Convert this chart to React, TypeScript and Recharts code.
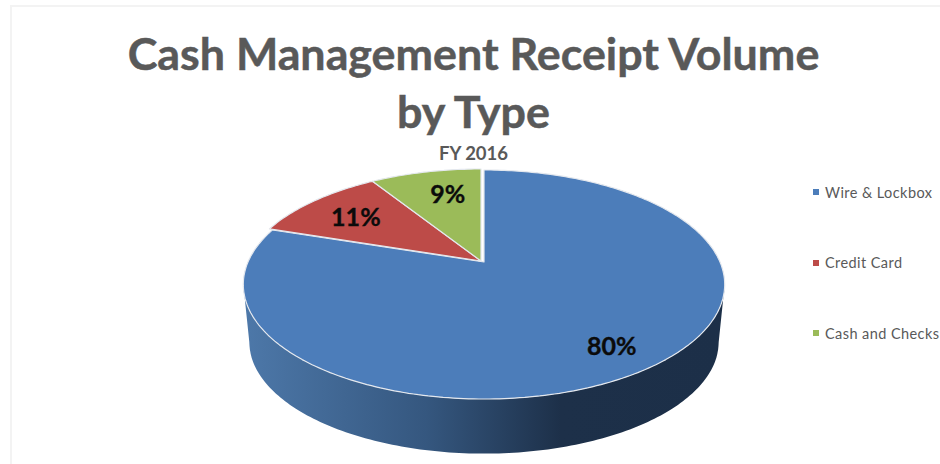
import React from 'react';
import { PieChart, Pie, Cell, Legend } from 'recharts';

const titleLines = ['Cash Management Receipt Volume', 'by Type'];
const subtitle = 'FY 2016';
const categories = ['Wire & Lockbox', 'Credit Card', 'Cash and Checks'];
const shares = [80, 11, 9];
const COLORS = ['#4c7dba', '#bd4b48', '#9bbb59'];

const data = categories.map((name, i) => ({ name, value: shares[i] }));

// the pie is tilted, so a flat circle is projected with some perspective
const TILT = 0.1965;
const SQUASH = 0.4665;
const DEPTH = 58;
const BOTTOM_TAPER = 0.975;
const RAD = Math.PI / 180;

function project(cx: number, cy: number, r: number, deg: number) {
  const c = Math.cos(deg * RAD);
  const s = Math.sin(deg * RAD);
  const d = 1 + TILT * (r / 236) * s;
  return { x: cx + (r * c) / d, y: cy - (r * SQUASH * s) / d };
}

function arcPoints(cx: number, cy: number, r: number, from: number, to: number) {
  const pts = [];
  const n = Math.max(2, Math.ceil(Math.abs(to - from)));
  for (let i = 0; i <= n; i++) pts.push(project(cx, cy, r, from + ((to - from) * i) / n));
  return pts;
}

const toPath = (pts: { x: number; y: number }[]) =>
  pts.map((p, i) => `${i ? 'L' : 'M'}${p.x.toFixed(1)},${p.y.toFixed(1)}`).join(' ');

function PieSlice(props: any) {
  const { cx, cy, outerRadius, startAngle, endAngle, fill, index } = props;
  // the big slice sits a little apart from the other two
  const ox = index === 0 ? cx + 3 : cx;
  const oy = index === 0 ? cy + 1 : cy;
  const top = arcPoints(ox, oy, outerRadius, startAngle, endAngle);

  const wallFrom = Math.min(startAngle, -11.3);
  const wallTo = Math.max(endAngle, -168.7);
  let wall = null;
  if (wallFrom > wallTo) {
    const front = arcPoints(ox, oy, outerRadius, wallFrom, wallTo);
    const bottom = front
      .map((p) => ({
        x: ox + (p.x - ox) * BOTTOM_TAPER,
        y: oy + (p.y - oy) * BOTTOM_TAPER + DEPTH,
      }))
      .reverse();
    wall = <path d={toPath([...front, ...bottom]) + ' Z'} fill="url(#wallShade)" />;
  }

  return (
    <g>
      <defs>
        <linearGradient id="wallShade" gradientUnits="userSpaceOnUse" x1={ox - 240} y1="0" x2={ox + 240} y2="0">
          <stop offset="0" stopColor="#4d78a9" />
          <stop offset="0.38" stopColor="#35577f" />
          <stop offset="0.66" stopColor="#1d3049" />
          <stop offset="1" stopColor="#1c2f48" />
        </linearGradient>
      </defs>
      {wall}
      <path
        d={`M${ox},${oy} ` + toPath(top).replace('M', 'L') + ' Z'}
        fill={fill}
        stroke="#e4e8ee"
        strokeWidth={1.2}
        strokeLinejoin="round"
      />
    </g>
  );
}

function SliceLabel(props: any) {
  const { cx, cy, outerRadius, midAngle, percent, value } = props;
  const reach = percent > 0.5 ? 0.82 : 0.73;
  const p = project(cx, cy, outerRadius * reach, midAngle);
  return (
    <text
      x={percent < 0.1 ? p.x + 9 : p.x}
      y={p.y}
      textAnchor="middle"
      dominantBaseline="central"
      fontFamily="Lato"
      fontWeight={700}
      fontSize={25}
      fill="#0b0b0b"
      stroke="#0b0b0b"
      strokeWidth={0.35}
    >
      {value}%
    </text>
  );
}

function LegendRows(props: any) {
  return (
    <div>
      {props.payload.map((entry: any) => (
        <div
          key={entry.value}
          style={{
            height: 70.5,
            display: 'flex',
            alignItems: 'center',
            whiteSpace: 'nowrap',
            fontFamily: 'Lato',
            fontSize: 14.5,
            letterSpacing: 0.42,
            color: '#595959',
          }}
        >
          <span style={{ width: 6, height: 6, marginRight: 6, background: entry.color, flex: 'none' }} />
          {entry.value}
        </div>
      ))}
    </div>
  );
}

const centered: React.CSSProperties = {
  position: 'absolute',
  left: 0,
  width: 947,
  textAlign: 'center',
  fontFamily: 'Lato',
  fontWeight: 700,
  color: '#595959',
  whiteSpace: 'nowrap',
};

export default function App() {
  return (
    <div style={{ position: 'absolute', left: 0, top: 0, width: 940, height: 464, overflow: 'hidden', background: '#fff' }}>
      <div
        style={{
          position: 'absolute',
          left: 10,
          top: 5,
          width: 930,
          height: 459,
          borderLeft: '2px solid #f3f3f3',
          borderTop: '2px solid #f3f3f3',
        }}
      />
      <PieChart
        width={940}
        height={464}
        margin={{ top: 0, right: 0, bottom: 0, left: 0 }}
        style={{ position: 'absolute', left: 0, top: 0 }}
      >
        <Pie
          data={data}
          dataKey="value"
          nameKey="name"
          cx={481}
          cy={261}
          outerRadius={236}
          startAngle={90}
          endAngle={-270}
          stroke="none"
          shape={PieSlice}
          label={SliceLabel}
          labelLine={false}
          isAnimationActive={false}
        >
          {data.map((d, i) => (
            <Cell key={d.name} fill={COLORS[i]} />
          ))}
        </Pie>
        <Legend
          layout="vertical"
          content={LegendRows}
          itemSorter={null}
          wrapperStyle={{ left: 813, top: 157, width: 126 }}
        />
      </PieChart>
      <div style={{ ...centered, top: 26, fontSize: 44.8, lineHeight: '54px', WebkitTextStroke: '0.5px #595959' }}>{titleLines[0]}</div>
      <div style={{ ...centered, top: 84, fontSize: 44.8, lineHeight: '54px', WebkitTextStroke: '0.5px #595959' }}>{titleLines[1]}</div>
      <div style={{ ...centered, top: 141, fontSize: 18.5, lineHeight: '24px' }}>{subtitle}</div>
    </div>
  );
}
